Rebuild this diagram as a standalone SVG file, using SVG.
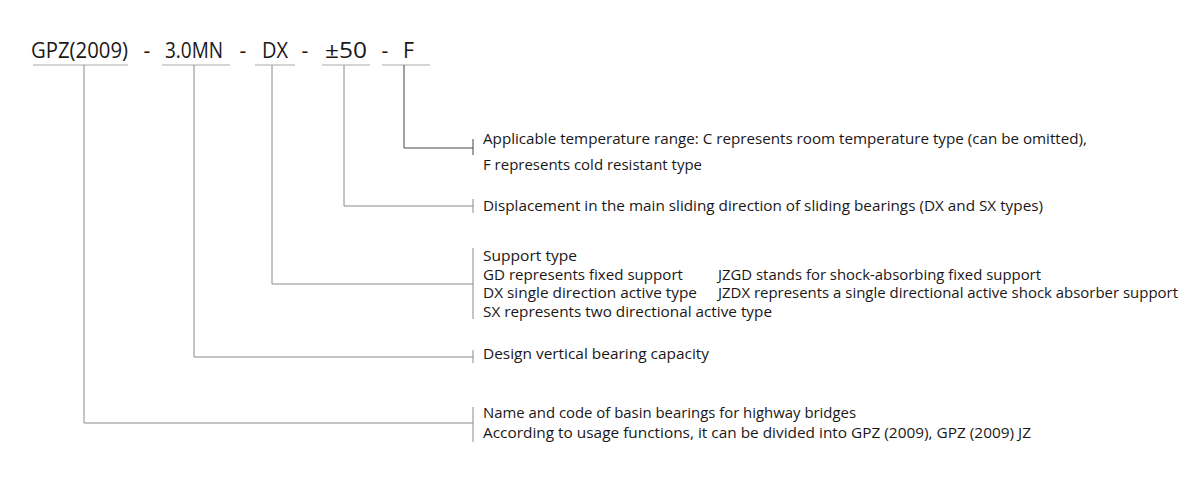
<svg xmlns="http://www.w3.org/2000/svg" width="1200" height="485" viewBox="0 0 1200 485">
<style>
.t{font-family:"Open Sans","Liberation Sans",Arial,sans-serif;font-size:15px;fill:#1a1718}
.h{font-family:"Open Sans","Liberation Sans",Arial,sans-serif;font-size:21px;fill:#1a1718}
.u{stroke:#aaaaaa;stroke-width:1;fill:none}
.c{stroke:#8a8a8a;stroke-width:1;fill:none}
.d{stroke:#444444;stroke-width:1;fill:none}
</style>
<rect width="1200" height="485" fill="#ffffff"/>
<g id="code">
<text class="h" x="31" y="58" textLength="97" lengthAdjust="spacingAndGlyphs">GPZ(2009)</text>
<text class="h" x="147" y="58" text-anchor="middle">-</text>
<text class="h" x="165" y="58" textLength="58" lengthAdjust="spacingAndGlyphs">3.0MN</text>
<text class="h" x="243" y="58" text-anchor="middle">-</text>
<text class="h" x="262" y="58" textLength="26" lengthAdjust="spacingAndGlyphs">DX</text>
<text class="h" x="305" y="58" text-anchor="middle">-</text>
<text class="h" x="325" y="58" textLength="42" lengthAdjust="spacingAndGlyphs">±50</text>
<text class="h" x="385" y="58" text-anchor="middle">-</text>
<text class="h" x="403" y="58" textLength="11" lengthAdjust="spacingAndGlyphs">F</text>
<line class="u" x1="33" y1="65" x2="128" y2="65"/>
<line class="u" x1="162" y1="65" x2="230" y2="65"/>
<line class="u" x1="255" y1="65" x2="295" y2="65"/>
<line class="u" x1="322" y1="65" x2="370" y2="65"/>
<line class="u" x1="382" y1="65" x2="430" y2="65"/>
</g>
<g id="connectors">
<polyline class="d" points="404,65 404,148 473,148"/>
<line class="d" x1="473" y1="139" x2="473" y2="155"/>
<polyline class="c" points="344,65 344,206 473,206"/>
<line class="c" x1="473" y1="199" x2="473" y2="213"/>
<polyline class="c" points="272,65 272,284 473,284"/>
<line class="c" x1="473" y1="248" x2="473" y2="319"/>
<polyline class="c" points="194,65 194,357 473,357"/>
<line class="c" x1="473" y1="350" x2="473" y2="363"/>
<polyline class="c" points="84,65 84,423 473,423"/>
<line class="c" x1="473" y1="407" x2="473" y2="442"/>
</g>
<g id="temperature">
<text class="t" x="483" y="144" textLength="604" lengthAdjust="spacingAndGlyphs">Applicable temperature range: C represents room temperature type (can be omitted),</text>
<text class="t" x="483" y="170" textLength="219" lengthAdjust="spacingAndGlyphs">F represents cold resistant type</text>
</g>
<g id="displacement">
<text class="t" x="483" y="211" textLength="560" lengthAdjust="spacingAndGlyphs">Displacement in the main sliding direction of sliding bearings (DX and SX types)</text>
</g>
<g id="support-type">
<text class="t" x="483" y="261" textLength="94" lengthAdjust="spacingAndGlyphs">Support type</text>
<text class="t" x="483" y="280" textLength="200" lengthAdjust="spacingAndGlyphs">GD represents fixed support</text>
<text class="t" x="718" y="280" textLength="323" lengthAdjust="spacingAndGlyphs">JZGD stands for shock-absorbing fixed support</text>
<text class="t" x="483" y="298" textLength="214" lengthAdjust="spacingAndGlyphs">DX single direction active type</text>
<text class="t" x="718" y="298" textLength="460" lengthAdjust="spacingAndGlyphs">JZDX represents a single directional active shock absorber support</text>
<text class="t" x="483" y="317" textLength="289" lengthAdjust="spacingAndGlyphs">SX represents two directional active type</text>
</g>
<g id="capacity">
<text class="t" x="483" y="359" textLength="226" lengthAdjust="spacingAndGlyphs">Design vertical bearing capacity</text>
</g>
<g id="name">
<text class="t" x="483" y="418" textLength="373" lengthAdjust="spacingAndGlyphs">Name and code of basin bearings for highway bridges</text>
<text class="t" x="483" y="437.5" textLength="548" lengthAdjust="spacingAndGlyphs">According to usage functions, it can be divided into GPZ (2009), GPZ (2009) JZ</text>
</g>
</svg>
